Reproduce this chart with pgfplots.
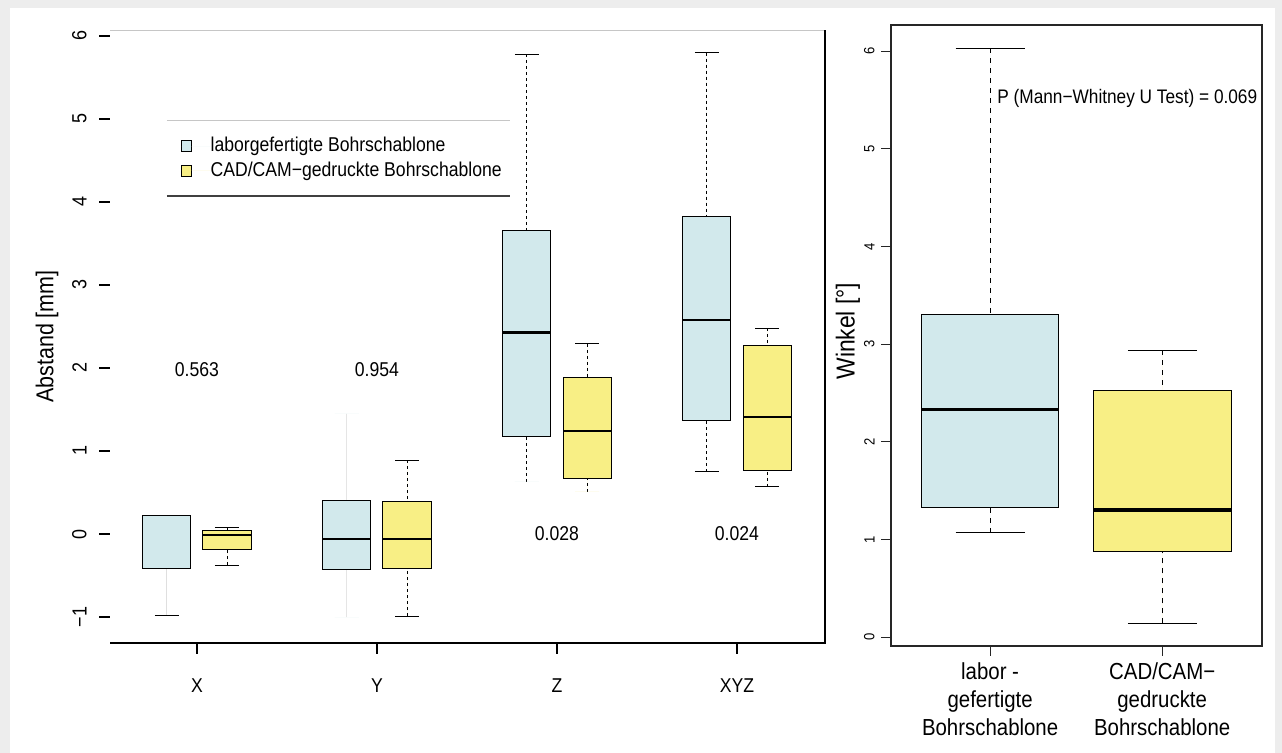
\documentclass[border=0pt]{standalone}
\usepackage{fontspec}
\setmainfont{Liberation Sans}[FakeStretch=0.88]
\usepackage{pgfplots}
\pgfplotsset{compat=1.18}
\usepgfplotslibrary{statistics}
\definecolor{lblue}{RGB}{210,233,236}
\definecolor{lyellow}{RGB}{248,239,133}
\pgfplotsset{
  boxplot/draw direction=y,
  boxplot/lwhisk/.style={dash pattern=on 1.5pt off 1.5pt},
  boxplot/uwhisk/.style={dash pattern=on 1.5pt off 1.5pt},
  boxplot/lcap/.style={solid},
  boxplot/ucap/.style={solid},
  boxplot/every median/.style={line width=1.2pt},
  boxplot/draw/lower whisker/.code={%
    \draw[/pgfplots/boxplot/lwhisk] (boxplot box cs:\pgfplotsboxplotvalue{lower whisker},0.5) -- (boxplot box cs:\pgfplotsboxplotvalue{lower quartile},0.5);
    \draw[/pgfplots/boxplot/lcap] (boxplot box cs:\pgfplotsboxplotvalue{lower whisker},0.25) -- (boxplot box cs:\pgfplotsboxplotvalue{lower whisker},0.75);
  },
  boxplot/draw/upper whisker/.code={%
    \draw[/pgfplots/boxplot/uwhisk] (boxplot box cs:\pgfplotsboxplotvalue{upper whisker},0.5) -- (boxplot box cs:\pgfplotsboxplotvalue{upper quartile},0.5);
    \draw[/pgfplots/boxplot/ucap] (boxplot box cs:\pgfplotsboxplotvalue{upper whisker},0.25) -- (boxplot box cs:\pgfplotsboxplotvalue{upper whisker},0.75);
  },
  rb/.style={draw=black, fill=#1, line width=0.5pt, mark=none},
}
\begin{document}
\begin{tikzpicture}
\path[use as bounding box, fill=gray!14] (0,0) rectangle (641pt,-376.5pt);
\fill[white] (5pt,-4pt) rectangle (637.5pt,-376.5pt);
% ---------------- left panel ----------------
\begin{axis}[
  at={(55pt,-321.5pt)}, anchor=south west,
  scale only axis, width=357.5pt, height=306.5pt,
  xmin=0.517, xmax=4.489, ymin=-1.313, ymax=6.072,
  axis line style={draw=none},
  tick align=outside, major tick length=5.5pt,
  xtick pos=bottom, ytick pos=left,
  xtick={1,2,3,4}, xticklabels={X,Y,Z,XYZ},
  ytick={-1,0,1,2,3,4,5,6}, yticklabels={−1,0,1,2,3,4,5,6},
  tick style={black, line width=0.6pt},
  xticklabel style={font=\fontsize{10}{11}\selectfont, anchor=north, inner sep=0pt},
  xticklabel shift=12pt,
  yticklabel style={font=\fontsize{10.2}{11}\selectfont, rotate=90, anchor=south, inner sep=0pt},
  yticklabel shift=6pt,
  ylabel={Abstand [mm]},
  every axis y label/.style={at={(rel axis cs:0,0.5)}, rotate=90, anchor=center, yshift=31.5pt, font=\fontsize{12.2}{13}\selectfont},
  boxplot/box extend=0.267,
  clip=false,
  legend style={at={(axis cs:0.91,4.524)}, anchor=west, draw=none, fill=none, inner sep=0pt,
    font=\fontsize{10}{11}\selectfont, row sep=3.7pt, nodes={inner sep=0pt}, cells={anchor=west}},
  legend image code/.code={\draw[#1] (0pt,-2.7pt) rectangle (5pt,2.7pt); \path[draw=none] (0pt,0pt) -- (14.5pt,0pt);},
]
\addlegendimage{draw=black, fill=lblue, line width=0.5pt}
\addlegendimage{draw=black, fill=lyellow, line width=0.5pt}
\legend{laborgefertigte Bohrschablone, CAD/CAM−gedruckte Bohrschablone}
% X
\addplot[rb=lblue, boxplot prepared={draw position=0.833, lower whisker=-0.98, lower quartile=-0.41, median=-0.41, upper quartile=0.22, upper whisker=0.22},
  boxplot/lwhisk/.style={draw=gray!25, solid}, boxplot/ucap/.style={draw=none}, boxplot/every median/.style={line width=0.5pt}] coordinates {};
\addplot[rb=lyellow, boxplot prepared={draw position=1.167, lower whisker=-0.375, lower quartile=-0.19, median=-0.01, upper quartile=0.048, upper whisker=0.08}] coordinates {};
% Y
\addplot[rb=lblue, boxplot prepared={draw position=1.833, lower whisker=-1.0, lower quartile=-0.43, median=-0.06, upper quartile=0.40, upper whisker=1.45},
  boxplot/lwhisk/.style={draw=gray!20, solid}, boxplot/uwhisk/.style={draw=gray!20, solid},
  boxplot/lcap/.style={draw=none}, boxplot/ucap/.style={draw=none}] coordinates {};
\addplot[rb=lyellow, boxplot prepared={draw position=2.167, lower whisker=-0.99, lower quartile=-0.41, median=-0.06, upper quartile=0.39, upper whisker=0.89}] coordinates {};
% Z
\addplot[rb=lblue, boxplot prepared={draw position=2.833, lower whisker=0.63, lower quartile=1.18, median=2.43, upper quartile=3.66, upper whisker=5.78},
  boxplot/lcap/.style={draw=none}] coordinates {};
\addplot[rb=lyellow, boxplot prepared={draw position=3.167, lower whisker=0.51, lower quartile=0.67, median=1.24, upper quartile=1.88, upper whisker=2.29},
  boxplot/lcap/.style={draw=none}] coordinates {};
% XYZ
\addplot[rb=lblue, boxplot prepared={draw position=3.833, lower whisker=0.75, lower quartile=1.37, median=2.58, upper quartile=3.82, upper whisker=5.80}] coordinates {};
\addplot[rb=lyellow, boxplot prepared={draw position=4.167, lower whisker=0.57, lower quartile=0.76, median=1.41, upper quartile=2.27, upper whisker=2.48}] coordinates {};
% p-values
\node[font=\fontsize{10}{11}\selectfont] at (axis cs:1,1.98) {0.563};
\node[font=\fontsize{10}{11}\selectfont] at (axis cs:2,1.98) {0.954};
\node[font=\fontsize{10}{11}\selectfont] at (axis cs:3,0) {0.028};
\node[font=\fontsize{10}{11}\selectfont] at (axis cs:4,0) {0.024};
% legend rules
\draw[gray!45, line width=0.5pt] (axis cs:0.833,4.985) -- (axis cs:2.739,4.985);
\draw[black!75, line width=0.7pt] (axis cs:0.833,4.07) -- (axis cs:2.739,4.07);
% spines
\draw[gray!45, line width=0.5pt] (rel axis cs:0,1) -- (rel axis cs:1,1);
\draw[black, line width=0.6pt] (rel axis cs:1,1) -- (rel axis cs:1,0) -- (rel axis cs:0,0);
\end{axis}
% ---------------- right panel ----------------
\begin{axis}[
  at={(445.5pt,-323pt)}, anchor=south west,
  scale only axis, width=185.5pt, height=310.5pt,
  xmin=0.424, xmax=2.58, ymin=-0.092, ymax=6.27,
  axis line style={line width=0.6pt, black!85},
  tick align=outside, major tick length=5pt,
  tick style={black!85, line width=0.5pt},
  xtick pos=bottom, ytick pos=left,
  xtick={1,2}, ytick={0,1,2,3,4,5,6}, yticklabels={0,1,2,3,4,5,6},
  xticklabels={{labor -\\gefertigte\\Bohrschablone},{CAD/CAM−\\gedruckte\\Bohrschablone}},
  xticklabel style={align=center, font=\fontsize{11.6}{14}\selectfont, anchor=north, inner sep=0pt},
  xticklabel shift=3pt,
  yticklabel style={font=\fontsize{7.4}{8}\selectfont, rotate=90, anchor=south, inner sep=0pt},
  yticklabel shift=3pt,
  ylabel={Winkel [°]},
  every axis y label/.style={at={(rel axis cs:0,0.507)}, rotate=90, anchor=center, yshift=21.5pt, font=\fontsize{13}{14}\selectfont},
  boxplot/box extend=0.8,
  boxplot/lwhisk/.style={dash pattern=on 2.5pt off 2.5pt},
  boxplot/uwhisk/.style={dash pattern=on 2.5pt off 2.5pt},
  boxplot/every median/.style={line width=1.8pt},
  clip=false,
]
\addplot[rb=lblue, boxplot prepared={draw position=1, lower whisker=1.07, lower quartile=1.33, median=2.33, upper quartile=3.30, upper whisker=6.03}] coordinates {};
\addplot[rb=lyellow, boxplot prepared={draw position=2, lower whisker=0.14, lower quartile=0.88, median=1.30, upper quartile=2.53, upper whisker=2.94}] coordinates {};
\node[anchor=west, inner sep=0pt, font=\fontsize{9.8}{11}\selectfont] at (axis cs:1.04,5.52) {P (Mann−Whitney U Test) = 0.069};
\end{axis}
\end{tikzpicture}
\end{document}
